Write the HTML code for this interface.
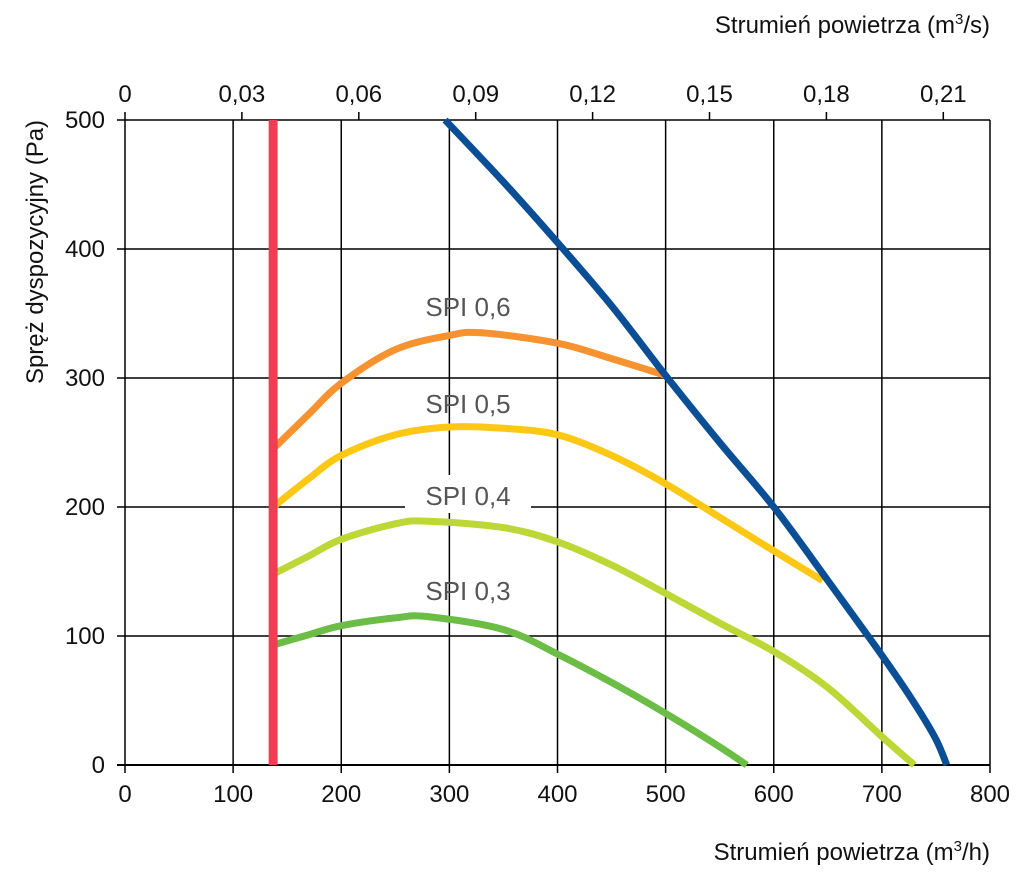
<!DOCTYPE html>
<html><head><meta charset="utf-8"><style>
body{margin:0;background:#fff;}
svg{display:block;font-family:"Liberation Sans",sans-serif;}
</style></head><body>
<svg id="chart" width="1024" height="882" viewBox="0 0 1024 882"></svg>
<script>
const xTicks=[0,100,200,300,400,500,600,700,800];
const yTicks=[0,100,200,300,400,500];
const topTicks=["0","0,03","0,06","0,09","0,12","0,15","0,18","0,21"];
const minFlow=137;
const fanX=[296,350,400,450,500,550,600,650,700,730,750,760];
const fanY=[500,452,405,356,302,250,200,143,85,48,20,0];
const spi6X=[137,170,200,250,300,330,400,450,500];
const spi6Y=[245,272,296,322,333,335,327,315,302];
const spi5X=[137,170,200,250,300,350,400,450,500,550,600,645];
const spi5Y=[200,222,240,256,262,261,256,240,218,192,166,143];
const spi4X=[137,170,200,250,280,350,400,450,500,550,600,650,700,730];
const spi4Y=[148,162,175,187,189,184,173,155,133,110,88,60,22,0];
const spi3X=[137,170,200,250,280,350,400,450,500,550,575];
const spi3Y=[93,101,108,114,115,105,86,64,40,14,0];
const spiLabels=["SPI 0,6","SPI 0,5","SPI 0,4","SPI 0,3"];

const NS="http://www.w3.org/2000/svg";
const svg=document.getElementById('chart');
const X0=125,X1=990,Y0=765,Y1=120;
const sx=v=>X0+(v/800)*(X1-X0);
const sy=v=>Y0-(v/500)*(Y0-Y1);
function mk(t,a,p){const e=document.createElementNS(NS,t);for(const k in a)e.setAttribute(k,a[k]);(p||svg).appendChild(e);return e;}

xTicks.forEach(v=>{
  const l=mk('line',{x1:sx(v),x2:sx(v),y1:Y1,y2:Y0+8,stroke:'#000','stroke-width':1.5});
  
  
  const t=mk('text',{x:sx(v),y:Y0+37,'text-anchor':'middle','font-size':24,fill:'#111'});
  t.textContent=v;
  
  
});
yTicks.forEach(v=>{
  const l=mk('line',{x1:X0-8,x2:X1,y1:sy(v),y2:sy(v),stroke:'#000','stroke-width':1.5});
  
  
  const t=mk('text',{x:X0-20,y:sy(v)+8,'text-anchor':'end','font-size':24,fill:'#111'});
  t.textContent=v;
  
  
});
const topStep=116.9;
topTicks.forEach((s,i)=>{
  const x=X0+i*topStep;
  const l=mk('line',{x1:x,x2:x,y1:Y1,y2:Y1-8,stroke:'#000','stroke-width':1.5});
  
  
  const t=mk('text',{x:x,y:Y1-18,'text-anchor':'middle','font-size':24,fill:'#111'});
  t.textContent=s;
  
  
});
const ax=mk('line',{x1:X0-8,x2:X1,y1:Y0,y2:Y0,stroke:'#000','stroke-width':2});


function path(xs,ys,color,name){
  const P=xs.map((x,i)=>[sx(x),sy(ys[i])]);
  let d='M'+P[0][0].toFixed(1)+','+P[0][1].toFixed(1);
  for(let i=0;i<P.length-1;i++){
    const p0=P[Math.max(0,i-1)],p1=P[i],p2=P[i+1],p3=P[Math.min(P.length-1,i+2)];
    const c1=[p1[0]+(p2[0]-p0[0])/6,p1[1]+(p2[1]-p0[1])/6];
    const c2=[p2[0]-(p3[0]-p1[0])/6,p2[1]-(p3[1]-p1[1])/6];
    d+=' C'+c1.map(v=>v.toFixed(1)).join(',')+' '+c2.map(v=>v.toFixed(1)).join(',')+' '+p2.map(v=>v.toFixed(1)).join(',');
  }
  const p=mk('path',{d:d,fill:'none',stroke:color,'stroke-width':7,'stroke-linejoin':'round','stroke-linecap':'butt'});
  
  
}
path(spi3X,spi3Y,'#6cbd45','spi-0-3-curve');
path(spi4X,spi4Y,'#bdd737','spi-0-4-curve');
path(spi5X,spi5Y,'#fdc814','spi-0-5-curve');
path(spi6X,spi6Y,'#f6922f','spi-0-6-curve');
path(fanX,fanY,'#0a4e96','fan-curve');
const red=mk('line',{x1:sx(minFlow),x2:sx(minFlow),y1:sy(0),y2:sy(500),stroke:'#ee3e54','stroke-width':9});


const lblY=[308,405,497,592];
spiLabels.forEach((s,i)=>{
  if(i===2){const r=mk('rect',{x:405,y:lblY[i]-22,width:126,height:38,fill:'#fff'});}
  const t=mk('text',{x:468,y:lblY[i]+8,'text-anchor':'middle','font-size':26,fill:'#555'});
  t.textContent=s;
  
  
});
</script>
<svg style="position:absolute;left:0;top:0" width="1024" height="882">
<text x="990" y="33" text-anchor="end" font-size="24" fill="#111" font-family="Liberation Sans,sans-serif">Strumień powietrza (m<tspan font-size="15" dy="-9">3</tspan><tspan dy="9">/s)</tspan></text>
<text x="990" y="860" text-anchor="end" font-size="24" fill="#111" font-family="Liberation Sans,sans-serif">Strumień powietrza (m<tspan font-size="15" dy="-9">3</tspan><tspan dy="9">/h)</tspan></text>
<text transform="translate(43,252) rotate(-90)" text-anchor="middle" font-size="24" fill="#111" font-family="Liberation Sans,sans-serif">Spręż dyspozycyjny (Pa)</text>
</svg>
</body></html>
